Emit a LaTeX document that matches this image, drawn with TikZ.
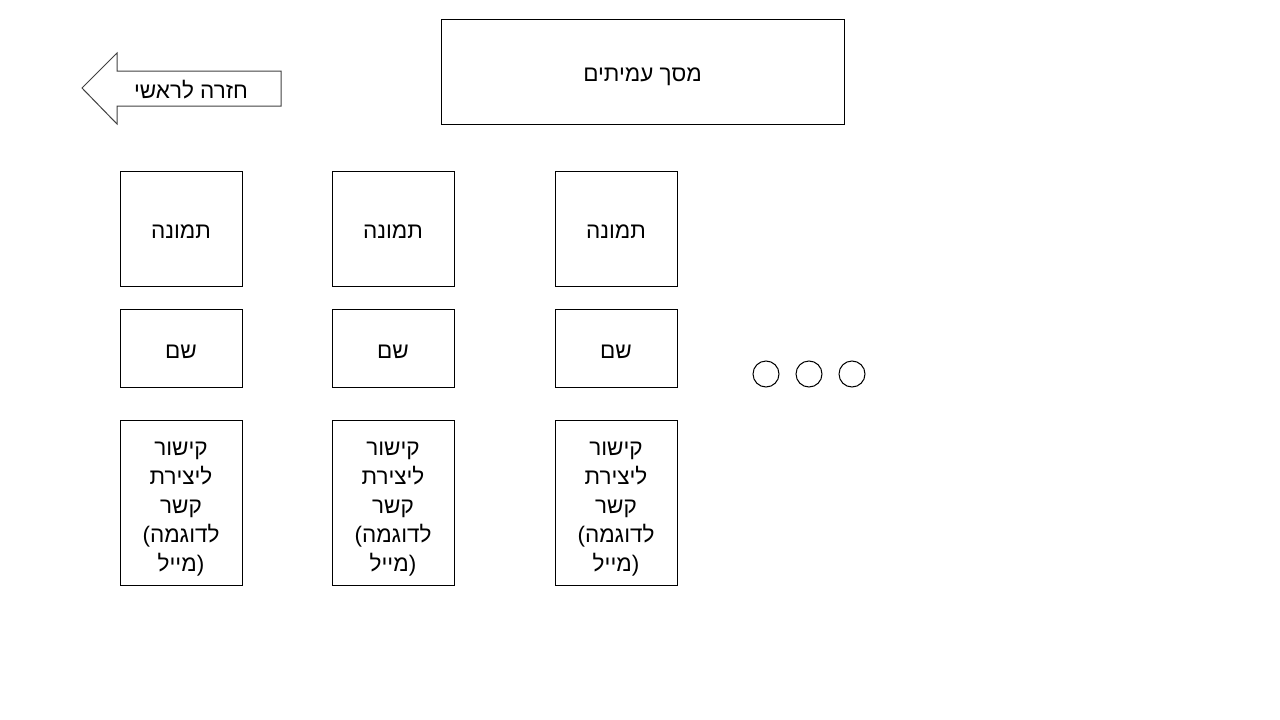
\documentclass[tikz,border=0pt]{standalone}
\usepackage{fontspec}
\setmainfont{Liberation Sans}
\newfontfamily\hebfont[Script=Hebrew]{Liberation Sans}
\TeXXeTstate=1
\newcommand{\heb}[1]{{\hebfont\beginR #1\endR}}

\begin{document}
\begin{tikzpicture} [x=1pt, y=-1pt, font=\fontsize{22.5}{29}\selectfont]
\tikzset{
box/.style={draw, line width=1pt, inner sep=0pt, align=center, text height=20pt, text depth=0pt},
picbox/.style={box, minimum width=122pt, minimum height=115pt},
namebox/.style={box, minimum width=122pt, minimum height=78pt},
linkbox/.style={box, minimum width=122pt, minimum height=165pt, text height=138pt},
dot/.style={draw, circle, line width=1pt, minimum size=26pt, inner sep=0pt}
}
\useasboundingbox (0,0) rectangle (1280,720);

\node [box, minimum width=403pt, minimum height=105pt] (title) at (642.5,71.5) {\heb{מסך עמיתים}};

% back arrow
\draw [line width=1pt, black!75] 
(82,88)--(117,53)--(117,71)--(281,71)--(281,106)--(117,106)--(117,124)--cycle;
\node [text height=19pt, text depth=0pt, inner sep=0pt] (back) at (191,88.5) {\heb{חזרה לראשי}};

% the three colleagues
\foreach \x [count=\i] in {181,393,616} {
\node [picbox] (pic\i) at (\x,228.5) {\heb{תמונה}};
\node [namebox] (name\i) at (\x,348) {\heb{שם}};
\node [linkbox] (link\i) at (\x,502.5) 
{\heb{קישור}\\ \heb{ליצירת}\\ \heb{קשר}\\ (\heb{לדוגמה}\\ \heb{מייל})};
}

\foreach \x [count=\i] in {766,809,852}
\node [dot] (dot\i) at (\x,374) {};

\end{tikzpicture}
\end{document}
